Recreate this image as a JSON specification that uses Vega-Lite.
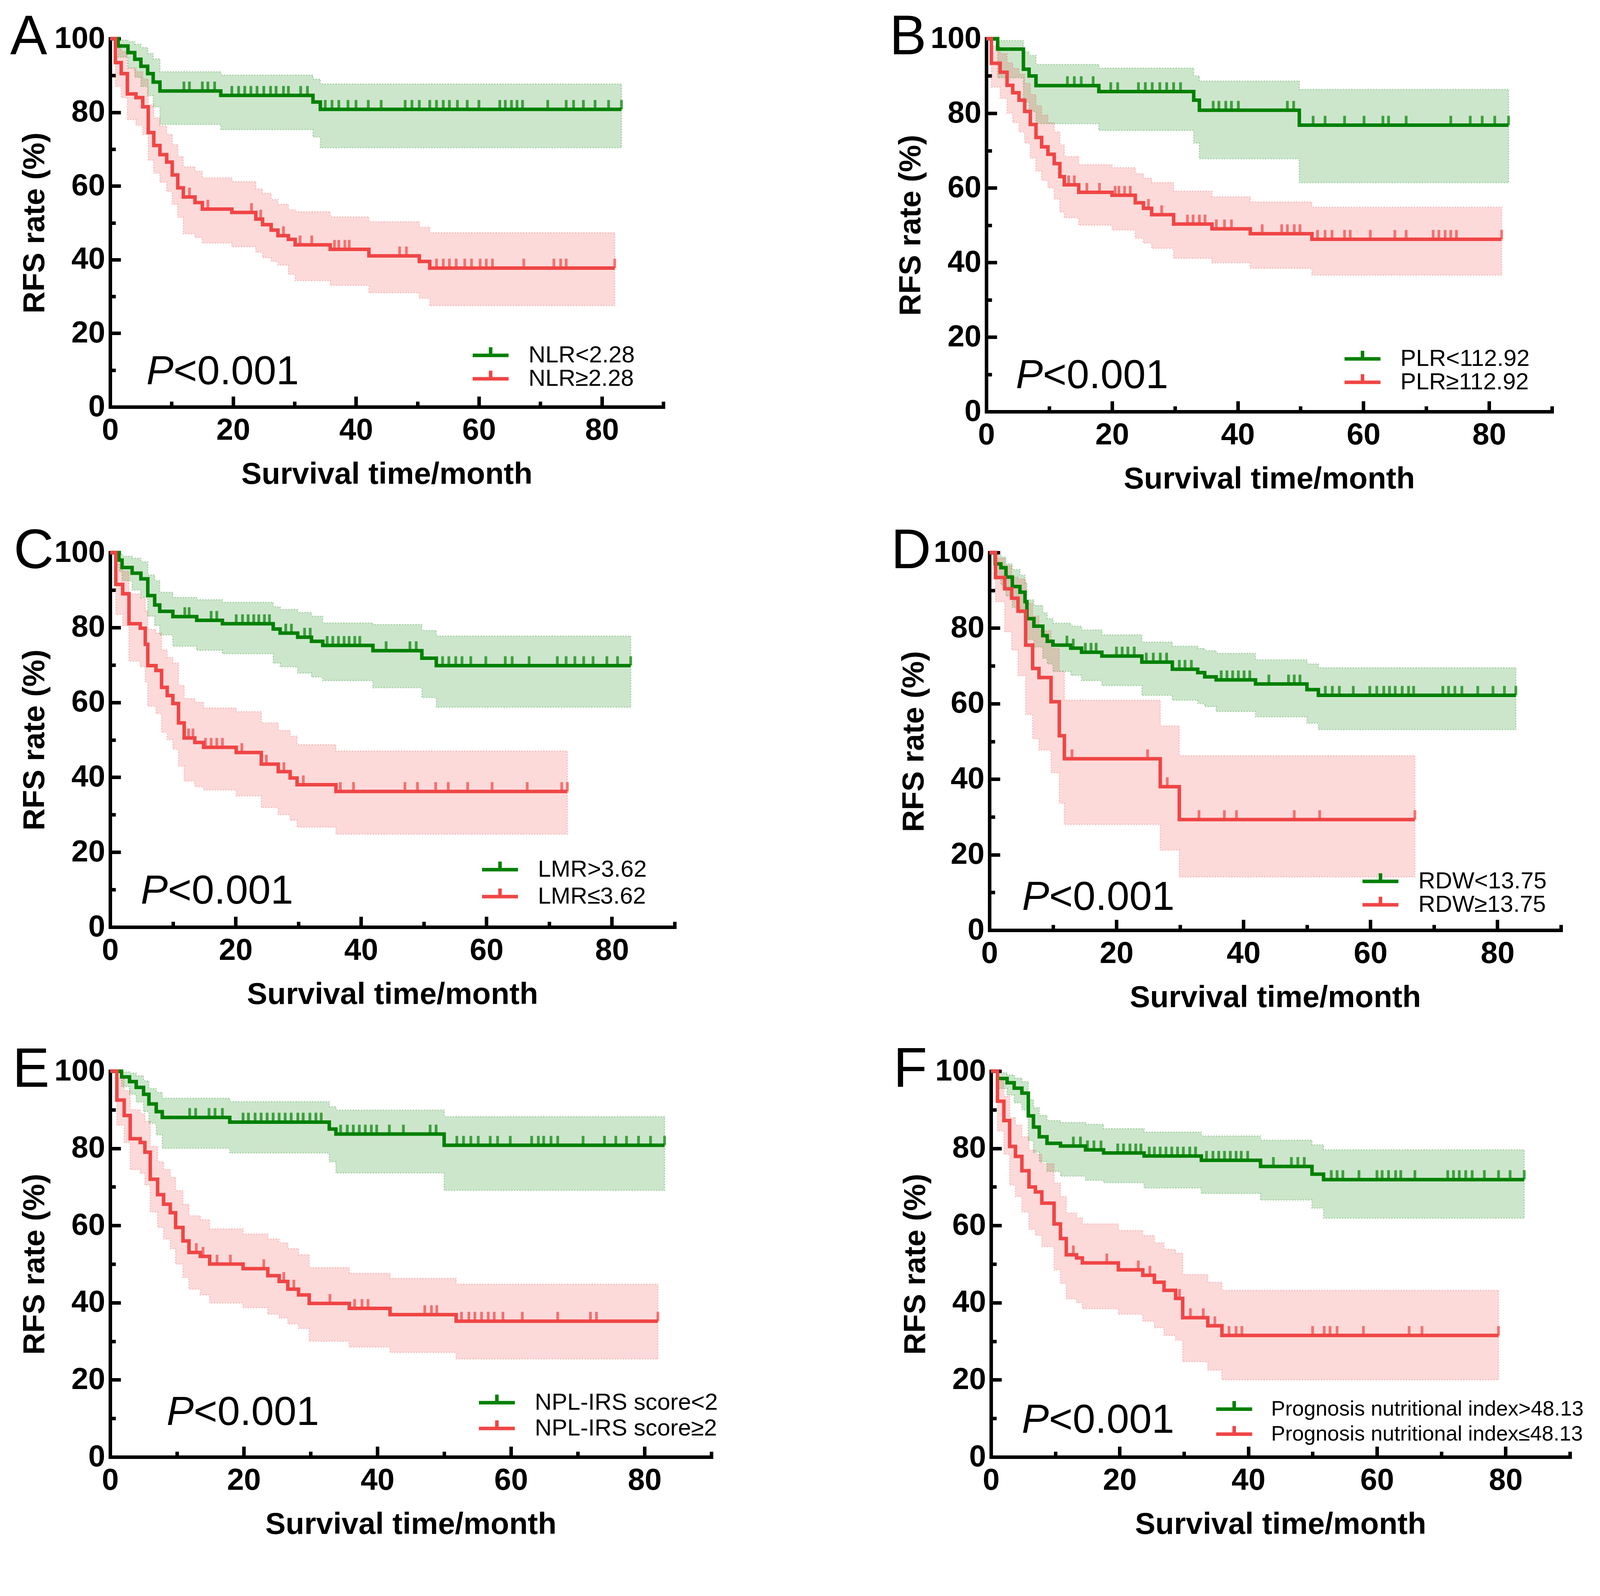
{
  "$schema": "https://vega.github.io/schema/vega-lite/v6.json",
  "background": "white",
  "padding": {"left": 26, "top": 25, "right": 5, "bottom": 5},
  "columns": 1,
  "align": "none",
  "spacing": 75,
  "datasets": {
    "km": [
      {"g":"A1","t":0,"s":100,"lo":100,"hi":100},{"g":"A1","t":1.3,"s":98,"lo":95,"hi":99.6},{"g":"A1","t":2.9,"s":96.2,"lo":92,"hi":99.2},{"g":"A1","t":4,"s":94.4,"lo":89.5,"hi":98.5},{"g":"A1","t":5,"s":92.5,"lo":87,"hi":97.6},{"g":"A1","t":6.1,"s":90.5,"lo":84.5,"hi":96},{"g":"A1","t":7,"s":88.2,"lo":81.5,"hi":94.5},{"g":"A1","t":8.1,"s":85.8,"lo":76.7,"hi":91},{"g":"A1","t":18,"s":84.6,"lo":75.3,"hi":90.1},{"g":"A1","t":33,"s":82.8,"lo":73.3,"hi":89},{"g":"A1","t":34.2,"s":80.8,"lo":70.4,"hi":87.7},{"g":"A1","t":83.2,"s":80.8,"lo":70.4,"hi":87.7},
      {"g":"A2","t":0,"s":100,"lo":100,"hi":100},{"g":"A2","t":0.85,"s":93.5,"lo":87,"hi":98.5},{"g":"A2","t":1.8,"s":90.5,"lo":84,"hi":96.5},{"g":"A2","t":2.8,"s":85,"lo":78,"hi":92},{"g":"A2","t":4.2,"s":84,"lo":76.5,"hi":91},{"g":"A2","t":5.3,"s":81.5,"lo":74,"hi":89},{"g":"A2","t":6.2,"s":74.5,"lo":67,"hi":82},{"g":"A2","t":7.1,"s":71,"lo":63.5,"hi":78.5},{"g":"A2","t":8.1,"s":68.5,"lo":61,"hi":76.3},{"g":"A2","t":9.2,"s":66.5,"lo":58.5,"hi":74},{"g":"A2","t":10.1,"s":63,"lo":55,"hi":71.2},{"g":"A2","t":11,"s":59.5,"lo":51.5,"hi":68},{"g":"A2","t":11.9,"s":57,"lo":47,"hi":65.2},{"g":"A2","t":13.8,"s":55.5,"lo":46,"hi":64},{"g":"A2","t":15,"s":53.7,"lo":44.5,"hi":62.2},{"g":"A2","t":19.8,"s":52.8,"lo":43.5,"hi":61.2},{"g":"A2","t":23.7,"s":51,"lo":42,"hi":59.2},{"g":"A2","t":24.8,"s":49.5,"lo":40.5,"hi":58},{"g":"A2","t":26.2,"s":48,"lo":39.5,"hi":56.3},{"g":"A2","t":27.3,"s":46.5,"lo":38.5,"hi":55},{"g":"A2","t":29,"s":45.5,"lo":36,"hi":53.5},{"g":"A2","t":30.1,"s":44,"lo":34.3,"hi":53},{"g":"A2","t":35.8,"s":42.8,"lo":33,"hi":51.6},{"g":"A2","t":42.1,"s":41,"lo":31,"hi":50.3},{"g":"A2","t":50.3,"s":39.5,"lo":29.5,"hi":48.8},{"g":"A2","t":52,"s":37.7,"lo":27.5,"hi":47.3},{"g":"A2","t":82.1,"s":37.7,"lo":27.5,"hi":47.3},
      {"g":"B1","t":0,"s":100,"lo":100,"hi":100},{"g":"B1","t":1.8,"s":97.2,"lo":89.5,"hi":99.5},{"g":"B1","t":5.9,"s":91.8,"lo":83,"hi":96.5},{"g":"B1","t":6.8,"s":90,"lo":80.5,"hi":95.5},{"g":"B1","t":7.9,"s":87.4,"lo":77.2,"hi":93.1},{"g":"B1","t":17.9,"s":85.8,"lo":75.4,"hi":92.1},{"g":"B1","t":33,"s":83.5,"lo":72,"hi":90},{"g":"B1","t":33.9,"s":80.8,"lo":67.8,"hi":88.6},{"g":"B1","t":49.8,"s":76.8,"lo":61.4,"hi":86.4},{"g":"B1","t":83.1,"s":76.8,"lo":61.4,"hi":86.4},
      {"g":"B2","t":0,"s":100,"lo":100,"hi":100},{"g":"B2","t":0.8,"s":93.4,"lo":87,"hi":98},{"g":"B2","t":2.2,"s":91,"lo":84,"hi":96},{"g":"B2","t":3.3,"s":87.5,"lo":80,"hi":93.5},{"g":"B2","t":4.2,"s":85.5,"lo":77.5,"hi":92},{"g":"B2","t":5.2,"s":83.5,"lo":75,"hi":90.5},{"g":"B2","t":6.1,"s":80.5,"lo":72,"hi":88},{"g":"B2","t":7,"s":77,"lo":68,"hi":85},{"g":"B2","t":7.9,"s":73.5,"lo":64.5,"hi":82},{"g":"B2","t":8.8,"s":71,"lo":62,"hi":79.5},{"g":"B2","t":9.8,"s":69,"lo":60,"hi":77.5},{"g":"B2","t":10.8,"s":66.5,"lo":57,"hi":75},{"g":"B2","t":11.7,"s":63,"lo":53.5,"hi":71.5},{"g":"B2","t":12.4,"s":60.8,"lo":52,"hi":68.4},{"g":"B2","t":14.7,"s":58.8,"lo":50,"hi":66.2},{"g":"B2","t":20,"s":58,"lo":48.7,"hi":65.4},{"g":"B2","t":23.7,"s":56,"lo":46.5,"hi":63.8},{"g":"B2","t":25,"s":54.5,"lo":45.2,"hi":62.6},{"g":"B2","t":26.3,"s":52.8,"lo":43.8,"hi":61.4},{"g":"B2","t":29.8,"s":50.3,"lo":41.1,"hi":59.1},{"g":"B2","t":35.9,"s":49,"lo":39.9,"hi":57.6},{"g":"B2","t":42,"s":47.7,"lo":38.4,"hi":56.2},{"g":"B2","t":51.8,"s":46.2,"lo":36.6,"hi":54.8},{"g":"B2","t":82,"s":46.2,"lo":36.6,"hi":54.8},
      {"g":"C1","t":0,"s":100,"lo":100,"hi":100},{"g":"C1","t":1.4,"s":98,"lo":95,"hi":99.7},{"g":"C1","t":1.9,"s":96,"lo":92.5,"hi":99},{"g":"C1","t":3.5,"s":94.5,"lo":90,"hi":98.5},{"g":"C1","t":4.9,"s":93,"lo":88,"hi":97.5},{"g":"C1","t":6,"s":88.5,"lo":83,"hi":94},{"g":"C1","t":7.1,"s":86,"lo":80.5,"hi":92.5},{"g":"C1","t":7.9,"s":84.3,"lo":78,"hi":89.4},{"g":"C1","t":10,"s":82.9,"lo":75,"hi":88},{"g":"C1","t":13.8,"s":81.9,"lo":73.9,"hi":87.4},{"g":"C1","t":17.9,"s":81,"lo":73,"hi":86.7},{"g":"C1","t":26,"s":79.6,"lo":70.5,"hi":85.5},{"g":"C1","t":27.1,"s":78.5,"lo":69.5,"hi":84.8},{"g":"C1","t":29.9,"s":77.4,"lo":67.8,"hi":84},{"g":"C1","t":32.1,"s":76.3,"lo":66.8,"hi":83},{"g":"C1","t":33.9,"s":75.2,"lo":65.8,"hi":81.2},{"g":"C1","t":41.9,"s":73.8,"lo":63.9,"hi":80.8},{"g":"C1","t":49.7,"s":71.8,"lo":61.3,"hi":79.2},{"g":"C1","t":52,"s":69.8,"lo":58.7,"hi":77.7},{"g":"C1","t":83,"s":69.8,"lo":58.7,"hi":77.7},
      {"g":"C2","t":0,"s":100,"lo":100,"hi":100},{"g":"C2","t":0.9,"s":91.5,"lo":83.5,"hi":97},{"g":"C2","t":2,"s":89,"lo":80.5,"hi":95},{"g":"C2","t":3,"s":81,"lo":71,"hi":89},{"g":"C2","t":4.8,"s":79.8,"lo":69.5,"hi":87.8},{"g":"C2","t":5.6,"s":75.5,"lo":65.5,"hi":84.5},{"g":"C2","t":6,"s":69.8,"lo":59,"hi":79.5},{"g":"C2","t":7.3,"s":68.5,"lo":57,"hi":78.5},{"g":"C2","t":8.2,"s":64,"lo":52,"hi":74},{"g":"C2","t":9.1,"s":61.8,"lo":50,"hi":72},{"g":"C2","t":10,"s":59.7,"lo":47.5,"hi":70.5},{"g":"C2","t":10.9,"s":54.5,"lo":43,"hi":64.5},{"g":"C2","t":11.8,"s":50.5,"lo":39,"hi":61},{"g":"C2","t":13.5,"s":49.3,"lo":37.5,"hi":60},{"g":"C2","t":14.9,"s":48,"lo":36.6,"hi":58.5},{"g":"C2","t":20.1,"s":46.6,"lo":35,"hi":57.5},{"g":"C2","t":24.1,"s":43.5,"lo":31.9,"hi":54.5},{"g":"C2","t":26.8,"s":41.5,"lo":30,"hi":52.5},{"g":"C2","t":28.7,"s":39.8,"lo":28.5,"hi":51},{"g":"C2","t":29.8,"s":38,"lo":26.7,"hi":48.7},{"g":"C2","t":36,"s":36.2,"lo":24.8,"hi":47},{"g":"C2","t":72.9,"s":36.2,"lo":24.8,"hi":47},
      {"g":"D1","t":0,"s":100,"lo":100,"hi":100},{"g":"D1","t":0.9,"s":97,"lo":93,"hi":99.3},{"g":"D1","t":1.8,"s":96,"lo":91.5,"hi":98.8},{"g":"D1","t":2.6,"s":93.5,"lo":88.5,"hi":97},{"g":"D1","t":3.6,"s":91,"lo":85.5,"hi":95.5},{"g":"D1","t":4.8,"s":89.5,"lo":84,"hi":94},{"g":"D1","t":5.6,"s":87,"lo":81,"hi":92},{"g":"D1","t":5.9,"s":82.5,"lo":77,"hi":87.5},{"g":"D1","t":7,"s":80.5,"lo":75,"hi":86},{"g":"D1","t":8.4,"s":78,"lo":72,"hi":84},{"g":"D1","t":9.1,"s":76.5,"lo":70.5,"hi":82.5},{"g":"D1","t":10,"s":75.5,"lo":68.5,"hi":81.3},{"g":"D1","t":12.8,"s":74.7,"lo":67.5,"hi":80.5},{"g":"D1","t":14.5,"s":73.6,"lo":66.1,"hi":79.5},{"g":"D1","t":17.7,"s":72.6,"lo":64.8,"hi":78.2},{"g":"D1","t":24,"s":71,"lo":62.2,"hi":76.3},{"g":"D1","t":28.8,"s":69.1,"lo":60.9,"hi":75.2},{"g":"D1","t":32.8,"s":68.2,"lo":60,"hi":74.6},{"g":"D1","t":33.9,"s":67.1,"lo":59.2,"hi":74},{"g":"D1","t":35.7,"s":66.3,"lo":57.9,"hi":73.3},{"g":"D1","t":41.9,"s":65.2,"lo":56.5,"hi":71.6},{"g":"D1","t":50,"s":63.7,"lo":54.8,"hi":70.5},{"g":"D1","t":51.8,"s":62.2,"lo":53.1,"hi":69.5},{"g":"D1","t":82.9,"s":62.2,"lo":53.1,"hi":69.5},
      {"g":"D2","t":0,"s":100,"lo":100,"hi":100},{"g":"D2","t":0.95,"s":93.4,"lo":87,"hi":98.5},{"g":"D2","t":2.4,"s":90.4,"lo":79,"hi":96.5},{"g":"D2","t":3.5,"s":87.9,"lo":74.2,"hi":93.5},{"g":"D2","t":4.5,"s":84.5,"lo":67.4,"hi":93},{"g":"D2","t":5.7,"s":75.5,"lo":57.1,"hi":86.6},{"g":"D2","t":6.8,"s":69.3,"lo":50.7,"hi":83.2},{"g":"D2","t":7.8,"s":66.9,"lo":47.7,"hi":79.3},{"g":"D2","t":9.7,"s":60.5,"lo":41.7,"hi":74.6},{"g":"D2","t":11,"s":51.5,"lo":33.6,"hi":68.6},{"g":"D2","t":11.8,"s":45.4,"lo":28,"hi":60.9},{"g":"D2","t":26.9,"s":38,"lo":21.2,"hi":54.1},{"g":"D2","t":29.9,"s":29.3,"lo":14.1,"hi":46.2},{"g":"D2","t":67,"s":29.3,"lo":14.1,"hi":46.2},
      {"g":"E1","t":0,"s":100,"lo":100,"hi":100},{"g":"E1","t":1.7,"s":98.5,"lo":96,"hi":99.8},{"g":"E1","t":2.9,"s":97.3,"lo":94,"hi":99.5},{"g":"E1","t":3.9,"s":95.8,"lo":92,"hi":98.8},{"g":"E1","t":5,"s":94,"lo":89.5,"hi":97.5},{"g":"E1","t":5.8,"s":91.5,"lo":86.5,"hi":95.5},{"g":"E1","t":6.9,"s":89.5,"lo":83.5,"hi":94.5},{"g":"E1","t":7.8,"s":88,"lo":80,"hi":93},{"g":"E1","t":17.9,"s":86.8,"lo":78.8,"hi":92.1},{"g":"E1","t":32.8,"s":85,"lo":76.5,"hi":90.8},{"g":"E1","t":33.8,"s":83.7,"lo":73.6,"hi":89.9},{"g":"E1","t":50,"s":80.8,"lo":69.1,"hi":88.2},{"g":"E1","t":83,"s":80.8,"lo":69.1,"hi":88.2},
      {"g":"E2","t":0,"s":100,"lo":100,"hi":100},{"g":"E2","t":1,"s":92.5,"lo":86,"hi":98.3},{"g":"E2","t":2.1,"s":88.5,"lo":81.5,"hi":95},{"g":"E2","t":3,"s":82.5,"lo":74.5,"hi":90},{"g":"E2","t":4.5,"s":81.5,"lo":73.5,"hi":89},{"g":"E2","t":5.2,"s":79,"lo":70.5,"hi":87},{"g":"E2","t":6,"s":72,"lo":63.5,"hi":80.5},{"g":"E2","t":7.1,"s":68,"lo":59.5,"hi":76.5},{"g":"E2","t":8,"s":65.5,"lo":56.5,"hi":74.5},{"g":"E2","t":9,"s":63.3,"lo":54,"hi":72.5},{"g":"E2","t":9.8,"s":59.5,"lo":50,"hi":69},{"g":"E2","t":10.9,"s":56,"lo":46.5,"hi":65.5},{"g":"E2","t":11.8,"s":53,"lo":43.5,"hi":62.5},{"g":"E2","t":13.5,"s":52,"lo":42,"hi":61.5},{"g":"E2","t":14.9,"s":50,"lo":39.9,"hi":59.1},{"g":"E2","t":19.9,"s":48.8,"lo":38.7,"hi":57.8},{"g":"E2","t":23.6,"s":47,"lo":37,"hi":56.5},{"g":"E2","t":25.3,"s":45.5,"lo":36,"hi":55.5},{"g":"E2","t":26.6,"s":43.5,"lo":34.5,"hi":54},{"g":"E2","t":28.2,"s":42,"lo":33.3,"hi":52.4},{"g":"E2","t":29.8,"s":39.8,"lo":30,"hi":49.1},{"g":"E2","t":35.8,"s":38.5,"lo":28.5,"hi":47.6},{"g":"E2","t":41.9,"s":36.9,"lo":27.1,"hi":46.3},{"g":"E2","t":51.8,"s":35.2,"lo":25.4,"hi":44.8},{"g":"E2","t":82,"s":35.2,"lo":25.4,"hi":44.8},
      {"g":"F1","t":0,"s":100,"lo":100,"hi":100},{"g":"F1","t":1,"s":98.1,"lo":95.5,"hi":99.6},{"g":"F1","t":2.5,"s":97,"lo":93.8,"hi":99},{"g":"F1","t":3.6,"s":95.6,"lo":91.8,"hi":98.2},{"g":"F1","t":4.8,"s":94.3,"lo":90,"hi":97.3},{"g":"F1","t":5.8,"s":88.4,"lo":82,"hi":92.6},{"g":"F1","t":6.6,"s":85.5,"lo":79,"hi":90.5},{"g":"F1","t":7.5,"s":83,"lo":76.5,"hi":88.5},{"g":"F1","t":8.7,"s":81.3,"lo":74,"hi":87.2},{"g":"F1","t":10.8,"s":80.6,"lo":72.8,"hi":86.7},{"g":"F1","t":14.7,"s":79.6,"lo":71.7,"hi":86.2},{"g":"F1","t":17.5,"s":78.8,"lo":71.1,"hi":85.1},{"g":"F1","t":23.8,"s":78,"lo":69.7,"hi":84.2},{"g":"F1","t":32.7,"s":76.9,"lo":68.3,"hi":83.2},{"g":"F1","t":41.9,"s":75.3,"lo":66.6,"hi":82.1},{"g":"F1","t":49.9,"s":73.3,"lo":64.5,"hi":80.9},{"g":"F1","t":51.7,"s":71.9,"lo":61.9,"hi":79.6},{"g":"F1","t":82.9,"s":71.9,"lo":61.9,"hi":79.6},
      {"g":"F2","t":0,"s":100,"lo":100,"hi":100},{"g":"F2","t":1,"s":92.2,"lo":84.5,"hi":97.5},{"g":"F2","t":2,"s":87.2,"lo":78.5,"hi":93.5},{"g":"F2","t":2.9,"s":80.5,"lo":70.5,"hi":88},{"g":"F2","t":3.8,"s":77.9,"lo":67.5,"hi":86},{"g":"F2","t":4.8,"s":74.2,"lo":63.5,"hi":83},{"g":"F2","t":5.9,"s":70,"lo":59,"hi":79.5},{"g":"F2","t":6.9,"s":68.7,"lo":57.5,"hi":78.5},{"g":"F2","t":7.9,"s":65.8,"lo":54.5,"hi":76},{"g":"F2","t":9.8,"s":60.4,"lo":48.5,"hi":71},{"g":"F2","t":10.8,"s":56.6,"lo":45,"hi":67.5},{"g":"F2","t":11.7,"s":52.4,"lo":41,"hi":63.2},{"g":"F2","t":13.3,"s":51.6,"lo":40,"hi":62},{"g":"F2","t":14.2,"s":50.3,"lo":38.4,"hi":60.4},{"g":"F2","t":19.8,"s":48.5,"lo":37,"hi":58.7},{"g":"F2","t":23.6,"s":47.1,"lo":35.2,"hi":57.4},{"g":"F2","t":25.4,"s":45.3,"lo":33.5,"hi":55.5},{"g":"F2","t":26.9,"s":43.2,"lo":31.5,"hi":53.8},{"g":"F2","t":28.7,"s":41.1,"lo":30.3,"hi":52.8},{"g":"F2","t":29.8,"s":36.1,"lo":24.7,"hi":47.3},{"g":"F2","t":33.7,"s":34,"lo":22.5,"hi":45.3},{"g":"F2","t":35.9,"s":31.5,"lo":20,"hi":43.2},{"g":"F2","t":78.9,"s":31.5,"lo":20,"hi":43.2}
    ],
    "cen": [
      {"g":"A1","t":12,"s":85.8},{"g":"A1","t":12.9,"s":85.8},{"g":"A1","t":15,"s":85.8},{"g":"A1","t":15.9,"s":85.8},{"g":"A1","t":17,"s":85.8},
      {"g":"A1","t":19.8,"s":84.6},{"g":"A1","t":20.9,"s":84.6},{"g":"A1","t":21.9,"s":84.6},{"g":"A1","t":22.9,"s":84.6},{"g":"A1","t":23.9,"s":84.6},{"g":"A1","t":25,"s":84.6},{"g":"A1","t":26.1,"s":84.6},{"g":"A1","t":27,"s":84.6},{"g":"A1","t":28.2,"s":84.6},{"g":"A1","t":29,"s":84.6},{"g":"A1","t":31,"s":84.6},{"g":"A1","t":32.1,"s":84.6},
      {"g":"A1","t":35,"s":80.8},{"g":"A1","t":36.1,"s":80.8},{"g":"A1","t":37.2,"s":80.8},{"g":"A1","t":38.7,"s":80.8},{"g":"A1","t":40,"s":80.8},{"g":"A1","t":42,"s":80.8},{"g":"A1","t":44.1,"s":80.8},{"g":"A1","t":48,"s":80.8},{"g":"A1","t":49.1,"s":80.8},{"g":"A1","t":50.3,"s":80.8},{"g":"A1","t":52,"s":80.8},{"g":"A1","t":53.1,"s":80.8},{"g":"A1","t":54.2,"s":80.8},{"g":"A1","t":55.2,"s":80.8},{"g":"A1","t":56.5,"s":80.8},{"g":"A1","t":58.1,"s":80.8},{"g":"A1","t":60,"s":80.8},{"g":"A1","t":63.4,"s":80.8},{"g":"A1","t":64.3,"s":80.8},{"g":"A1","t":65.3,"s":80.8},{"g":"A1","t":66.2,"s":80.8},{"g":"A1","t":67.1,"s":80.8},{"g":"A1","t":71.2,"s":80.8},{"g":"A1","t":74.2,"s":80.8},{"g":"A1","t":75.4,"s":80.8},{"g":"A1","t":77,"s":80.8},{"g":"A1","t":78.9,"s":80.8},{"g":"A1","t":81.1,"s":80.8},{"g":"A1","t":83.2,"s":80.8},
      {"g":"A2","t":12.9,"s":57},{"g":"A2","t":15.9,"s":53.7},{"g":"A2","t":23,"s":52.8},{"g":"A2","t":24.5,"s":51},{"g":"A2","t":28.2,"s":46.5},{"g":"A2","t":30.9,"s":44},{"g":"A2","t":32.8,"s":44},{"g":"A2","t":36.5,"s":42.8},{"g":"A2","t":37.2,"s":42.8},{"g":"A2","t":38.2,"s":42.8},{"g":"A2","t":38.9,"s":42.8},{"g":"A2","t":47.1,"s":41},{"g":"A2","t":48.2,"s":41},
      {"g":"A2","t":53.1,"s":37.7},{"g":"A2","t":54.2,"s":37.7},{"g":"A2","t":55.2,"s":37.7},{"g":"A2","t":56.3,"s":37.7},{"g":"A2","t":57.7,"s":37.7},{"g":"A2","t":58.8,"s":37.7},{"g":"A2","t":60.2,"s":37.7},{"g":"A2","t":61.2,"s":37.7},{"g":"A2","t":62.2,"s":37.7},{"g":"A2","t":67.3,"s":37.7},{"g":"A2","t":72.2,"s":37.7},{"g":"A2","t":73.3,"s":37.7},{"g":"A2","t":74.2,"s":37.7},{"g":"A2","t":82.1,"s":37.7},
      {"g":"B1","t":12.9,"s":87.4},{"g":"B1","t":14,"s":87.4},{"g":"B1","t":15.1,"s":87.4},{"g":"B1","t":17,"s":87.4},
      {"g":"B1","t":19.8,"s":85.8},{"g":"B1","t":20.9,"s":85.8},{"g":"B1","t":24.2,"s":85.8},{"g":"B1","t":25.3,"s":85.8},{"g":"B1","t":26.4,"s":85.8},{"g":"B1","t":27.6,"s":85.8},{"g":"B1","t":28.7,"s":85.8},{"g":"B1","t":29.8,"s":85.8},{"g":"B1","t":30.9,"s":85.8},
      {"g":"B1","t":36.1,"s":80.8},{"g":"B1","t":37,"s":80.8},{"g":"B1","t":38.1,"s":80.8},{"g":"B1","t":39,"s":80.8},{"g":"B1","t":40.1,"s":80.8},{"g":"B1","t":47.9,"s":80.8},{"g":"B1","t":48.9,"s":80.8},
      {"g":"B1","t":52,"s":76.8},{"g":"B1","t":53.9,"s":76.8},{"g":"B1","t":57,"s":76.8},{"g":"B1","t":60.1,"s":76.8},{"g":"B1","t":63.1,"s":76.8},{"g":"B1","t":64,"s":76.8},{"g":"B1","t":66.8,"s":76.8},{"g":"B1","t":73.9,"s":76.8},{"g":"B1","t":77,"s":76.8},{"g":"B1","t":78.9,"s":76.8},{"g":"B1","t":80.9,"s":76.8},{"g":"B1","t":83.1,"s":76.8},
      {"g":"B2","t":13.1,"s":60.8},{"g":"B2","t":14,"s":60.8},{"g":"B2","t":16,"s":58.8},{"g":"B2","t":18,"s":58.8},{"g":"B2","t":20.5,"s":58},{"g":"B2","t":21.1,"s":58},{"g":"B2","t":22,"s":58},{"g":"B2","t":22.9,"s":58},{"g":"B2","t":25.8,"s":54.5},{"g":"B2","t":27.9,"s":52.8},
      {"g":"B2","t":32,"s":50.3},{"g":"B2","t":32.9,"s":50.3},{"g":"B2","t":33.9,"s":50.3},{"g":"B2","t":34.8,"s":50.3},{"g":"B2","t":36.6,"s":49},{"g":"B2","t":37.9,"s":49},{"g":"B2","t":39,"s":49},
      {"g":"B2","t":43.9,"s":47.7},{"g":"B2","t":47,"s":47.7},{"g":"B2","t":47.9,"s":47.7},{"g":"B2","t":49,"s":47.7},{"g":"B2","t":49.9,"s":47.7},
      {"g":"B2","t":52.7,"s":46.2},{"g":"B2","t":53.9,"s":46.2},{"g":"B2","t":55,"s":46.2},{"g":"B2","t":57,"s":46.2},{"g":"B2","t":57.9,"s":46.2},{"g":"B2","t":61.1,"s":46.2},{"g":"B2","t":65,"s":46.2},{"g":"B2","t":66.8,"s":46.2},{"g":"B2","t":71.1,"s":46.2},{"g":"B2","t":72,"s":46.2},{"g":"B2","t":73,"s":46.2},{"g":"B2","t":73.9,"s":46.2},{"g":"B2","t":74.8,"s":46.2},{"g":"B2","t":82,"s":46.2},
      {"g":"C1","t":11.9,"s":82.9},{"g":"C1","t":12.6,"s":82.9},{"g":"C1","t":16.1,"s":81.9},{"g":"C1","t":17,"s":81.9},
      {"g":"C1","t":20.1,"s":81},{"g":"C1","t":21.1,"s":81},{"g":"C1","t":22,"s":81},{"g":"C1","t":22.9,"s":81},{"g":"C1","t":23.7,"s":81},{"g":"C1","t":24.6,"s":81},{"g":"C1","t":25.4,"s":81},
      {"g":"C1","t":28,"s":78.5},{"g":"C1","t":28.9,"s":78.5},{"g":"C1","t":31,"s":77.4},{"g":"C1","t":31.9,"s":77.4},
      {"g":"C1","t":34.6,"s":75.2},{"g":"C1","t":35.5,"s":75.2},{"g":"C1","t":36.4,"s":75.2},{"g":"C1","t":37.3,"s":75.2},{"g":"C1","t":38.1,"s":75.2},{"g":"C1","t":39,"s":75.2},{"g":"C1","t":39.8,"s":75.2},
      {"g":"C1","t":44,"s":73.8},{"g":"C1","t":47.8,"s":73.8},{"g":"C1","t":48.8,"s":73.8},
      {"g":"C1","t":53,"s":69.8},{"g":"C1","t":54,"s":69.8},{"g":"C1","t":55.1,"s":69.8},{"g":"C1","t":56.1,"s":69.8},{"g":"C1","t":57.5,"s":69.8},{"g":"C1","t":59.9,"s":69.8},{"g":"C1","t":63,"s":69.8},{"g":"C1","t":64.1,"s":69.8},{"g":"C1","t":66.8,"s":69.8},{"g":"C1","t":71.3,"s":69.8},{"g":"C1","t":72.7,"s":69.8},{"g":"C1","t":74.1,"s":69.8},{"g":"C1","t":75.5,"s":69.8},{"g":"C1","t":77,"s":69.8},{"g":"C1","t":79.2,"s":69.8},{"g":"C1","t":80.9,"s":69.8},{"g":"C1","t":83,"s":69.8},
      {"g":"C2","t":12.5,"s":50.5},{"g":"C2","t":13.2,"s":50.5},{"g":"C2","t":15.2,"s":48},{"g":"C2","t":16.1,"s":48},{"g":"C2","t":17,"s":48},{"g":"C2","t":17.9,"s":48},{"g":"C2","t":21,"s":46.6},{"g":"C2","t":24.9,"s":43.5},{"g":"C2","t":27.7,"s":41.5},{"g":"C2","t":30.8,"s":38},
      {"g":"C2","t":36.7,"s":36.2},{"g":"C2","t":38.8,"s":36.2},{"g":"C2","t":47,"s":36.2},{"g":"C2","t":49,"s":36.2},{"g":"C2","t":51.9,"s":36.2},{"g":"C2","t":53.9,"s":36.2},{"g":"C2","t":57,"s":36.2},{"g":"C2","t":60.9,"s":36.2},{"g":"C2","t":66.5,"s":36.2},{"g":"C2","t":72,"s":36.2},{"g":"C2","t":72.9,"s":36.2},
      {"g":"D1","t":12.2,"s":75.5},{"g":"D1","t":13.2,"s":74.7},{"g":"D1","t":15.1,"s":73.6},{"g":"D1","t":16,"s":73.6},{"g":"D1","t":16.8,"s":73.6},
      {"g":"D1","t":20,"s":72.6},{"g":"D1","t":20.9,"s":72.6},{"g":"D1","t":21.8,"s":72.6},{"g":"D1","t":22.8,"s":72.6},{"g":"D1","t":24.7,"s":71},{"g":"D1","t":25.8,"s":71},{"g":"D1","t":26.9,"s":71},{"g":"D1","t":27.9,"s":71},
      {"g":"D1","t":29.9,"s":69.1},{"g":"D1","t":30.8,"s":69.1},{"g":"D1","t":31.8,"s":69.1},
      {"g":"D1","t":36.5,"s":66.3},{"g":"D1","t":37.4,"s":66.3},{"g":"D1","t":38.3,"s":66.3},{"g":"D1","t":39.2,"s":66.3},{"g":"D1","t":40.1,"s":66.3},{"g":"D1","t":41,"s":66.3},
      {"g":"D1","t":44,"s":65.2},{"g":"D1","t":47.1,"s":65.2},{"g":"D1","t":48,"s":65.2},{"g":"D1","t":48.9,"s":65.2},
      {"g":"D1","t":52.9,"s":62.2},{"g":"D1","t":54,"s":62.2},{"g":"D1","t":55.1,"s":62.2},{"g":"D1","t":57.3,"s":62.2},{"g":"D1","t":59.9,"s":62.2},{"g":"D1","t":61,"s":62.2},{"g":"D1","t":62.1,"s":62.2},{"g":"D1","t":63,"s":62.2},{"g":"D1","t":63.9,"s":62.2},{"g":"D1","t":65,"s":62.2},{"g":"D1","t":66,"s":62.2},{"g":"D1","t":66.8,"s":62.2},{"g":"D1","t":71.4,"s":62.2},{"g":"D1","t":72.3,"s":62.2},{"g":"D1","t":73.3,"s":62.2},{"g":"D1","t":74.4,"s":62.2},{"g":"D1","t":76.9,"s":62.2},{"g":"D1","t":79.3,"s":62.2},{"g":"D1","t":81.1,"s":62.2},{"g":"D1","t":82.9,"s":62.2},
      {"g":"D2","t":13,"s":45.4},{"g":"D2","t":24.9,"s":45.4},{"g":"D2","t":28,"s":38},{"g":"D2","t":33,"s":29.3},{"g":"D2","t":37,"s":29.3},{"g":"D2","t":38.9,"s":29.3},{"g":"D2","t":48,"s":29.3},{"g":"D2","t":52,"s":29.3},{"g":"D2","t":67,"s":29.3},
      {"g":"E1","t":11.9,"s":88},{"g":"E1","t":12.8,"s":88},{"g":"E1","t":14.8,"s":88},{"g":"E1","t":15.7,"s":88},{"g":"E1","t":16.8,"s":88},
      {"g":"E1","t":19.9,"s":86.8},{"g":"E1","t":20.7,"s":86.8},{"g":"E1","t":21.7,"s":86.8},{"g":"E1","t":22.6,"s":86.8},{"g":"E1","t":23.5,"s":86.8},{"g":"E1","t":24.4,"s":86.8},{"g":"E1","t":25.3,"s":86.8},{"g":"E1","t":26.2,"s":86.8},{"g":"E1","t":27.1,"s":86.8},{"g":"E1","t":28.1,"s":86.8},{"g":"E1","t":28.9,"s":86.8},{"g":"E1","t":29.9,"s":86.8},{"g":"E1","t":30.8,"s":86.8},{"g":"E1","t":31.6,"s":86.8},
      {"g":"E1","t":34.5,"s":83.7},{"g":"E1","t":35.5,"s":83.7},{"g":"E1","t":36.4,"s":83.7},{"g":"E1","t":37.3,"s":83.7},{"g":"E1","t":38.2,"s":83.7},{"g":"E1","t":39.1,"s":83.7},{"g":"E1","t":39.9,"s":83.7},{"g":"E1","t":41.8,"s":83.7},{"g":"E1","t":43.9,"s":83.7},{"g":"E1","t":47.9,"s":83.7},{"g":"E1","t":48.8,"s":83.7},
      {"g":"E1","t":51.9,"s":80.8},{"g":"E1","t":52.9,"s":80.8},{"g":"E1","t":54,"s":80.8},{"g":"E1","t":55.1,"s":80.8},{"g":"E1","t":56.9,"s":80.8},{"g":"E1","t":58,"s":80.8},{"g":"E1","t":59.9,"s":80.8},{"g":"E1","t":63.1,"s":80.8},{"g":"E1","t":64.1,"s":80.8},{"g":"E1","t":64.9,"s":80.8},{"g":"E1","t":66,"s":80.8},{"g":"E1","t":67,"s":80.8},{"g":"E1","t":70.8,"s":80.8},{"g":"E1","t":74,"s":80.8},{"g":"E1","t":75.7,"s":80.8},{"g":"E1","t":77.3,"s":80.8},{"g":"E1","t":79.1,"s":80.8},{"g":"E1","t":80.9,"s":80.8},{"g":"E1","t":83,"s":80.8},
      {"g":"E2","t":12.9,"s":53},{"g":"E2","t":13.9,"s":52},{"g":"E2","t":16,"s":50},{"g":"E2","t":18,"s":50},{"g":"E2","t":23,"s":48.8},{"g":"E2","t":26,"s":45.5},{"g":"E2","t":27.5,"s":43.5},{"g":"E2","t":32.9,"s":39.8},
      {"g":"E2","t":36.6,"s":38.5},{"g":"E2","t":37.7,"s":38.5},{"g":"E2","t":38.6,"s":38.5},{"g":"E2","t":47.1,"s":36.9},{"g":"E2","t":48.1,"s":36.9},{"g":"E2","t":48.9,"s":36.9},
      {"g":"E2","t":52.6,"s":35.2},{"g":"E2","t":53.7,"s":35.2},{"g":"E2","t":54.6,"s":35.2},{"g":"E2","t":55.6,"s":35.2},{"g":"E2","t":56.6,"s":35.2},{"g":"E2","t":57.5,"s":35.2},{"g":"E2","t":58.8,"s":35.2},{"g":"E2","t":61.7,"s":35.2},{"g":"E2","t":67,"s":35.2},{"g":"E2","t":71.9,"s":35.2},{"g":"E2","t":72.8,"s":35.2},{"g":"E2","t":82,"s":35.2},
      {"g":"F1","t":12.8,"s":80.6},{"g":"F1","t":13.9,"s":80.6},{"g":"F1","t":15,"s":79.6},{"g":"F1","t":16,"s":79.6},{"g":"F1","t":17.1,"s":79.6},
      {"g":"F1","t":19.7,"s":78.8},{"g":"F1","t":20.6,"s":78.8},{"g":"F1","t":21.6,"s":78.8},{"g":"F1","t":22.5,"s":78.8},{"g":"F1","t":23.3,"s":78.8},
      {"g":"F1","t":24.6,"s":78},{"g":"F1","t":25.4,"s":78},{"g":"F1","t":26.3,"s":78},{"g":"F1","t":27.2,"s":78},{"g":"F1","t":28.1,"s":78},{"g":"F1","t":29,"s":78},{"g":"F1","t":29.9,"s":78},{"g":"F1","t":30.9,"s":78},{"g":"F1","t":31.8,"s":78},
      {"g":"F1","t":33.5,"s":76.9},{"g":"F1","t":34.5,"s":76.9},{"g":"F1","t":35.4,"s":76.9},{"g":"F1","t":36.3,"s":76.9},{"g":"F1","t":37.2,"s":76.9},{"g":"F1","t":38.1,"s":76.9},{"g":"F1","t":38.9,"s":76.9},{"g":"F1","t":39.9,"s":76.9},
      {"g":"F1","t":43.9,"s":75.3},{"g":"F1","t":46.7,"s":75.3},{"g":"F1","t":47.7,"s":75.3},{"g":"F1","t":48.7,"s":75.3},
      {"g":"F1","t":52.9,"s":71.9},{"g":"F1","t":53.8,"s":71.9},{"g":"F1","t":54.7,"s":71.9},{"g":"F1","t":57.2,"s":71.9},{"g":"F1","t":60,"s":71.9},{"g":"F1","t":60.8,"s":71.9},{"g":"F1","t":61.8,"s":71.9},{"g":"F1","t":62.9,"s":71.9},{"g":"F1","t":63.7,"s":71.9},{"g":"F1","t":65.9,"s":71.9},{"g":"F1","t":71,"s":71.9},{"g":"F1","t":71.9,"s":71.9},{"g":"F1","t":72.8,"s":71.9},{"g":"F1","t":73.8,"s":71.9},{"g":"F1","t":74.8,"s":71.9},{"g":"F1","t":76.7,"s":71.9},{"g":"F1","t":78.9,"s":71.9},{"g":"F1","t":80.7,"s":71.9},{"g":"F1","t":82.9,"s":71.9},
      {"g":"F2","t":12.8,"s":52.4},{"g":"F2","t":18,"s":50.3},{"g":"F2","t":22.9,"s":48.5},{"g":"F2","t":24.7,"s":47.1},{"g":"F2","t":29.3,"s":41.1},{"g":"F2","t":31,"s":36.1},{"g":"F2","t":33,"s":36.1},{"g":"F2","t":34.8,"s":34},
      {"g":"F2","t":37,"s":31.5},{"g":"F2","t":38.1,"s":31.5},{"g":"F2","t":39,"s":31.5},{"g":"F2","t":50,"s":31.5},{"g":"F2","t":51.8,"s":31.5},{"g":"F2","t":52.7,"s":31.5},{"g":"F2","t":53.8,"s":31.5},{"g":"F2","t":57.9,"s":31.5},{"g":"F2","t":65,"s":31.5},{"g":"F2","t":67,"s":31.5},{"g":"F2","t":78.9,"s":31.5}
    ],
    "pv": [
      {"g":"A","t":10.3,"s":6.2,"p":"P","v":"<0.001"},
      {"g":"B","t":9.0,"s":6.3,"p":"P","v":"<0.001"},
      {"g":"C","t":9.2,"s":6.3,"p":"P","v":"<0.001"},
      {"g":"D","t":9.4,"s":5.4,"p":"P","v":"<0.001"},
      {"g":"E","t":12.5,"s":8.3,"p":"P","v":"<0.001"},
      {"g":"F","t":9.0,"s":6.3,"p":"P","v":"<0.001"}
    ]
  },
  "concat": [
    {
      "spacing": 574,
      "hconcat": [
        {
          "title": {"text": "A", "dx": -256, "dy": 113},
          "width": 1416, "height": 943,
          "encoding": {
            "x": {"field": "t", "type": "quantitative", "scale": {"domain": [0, 90], "nice": false},
                  "axis": {"title": "Survival time/month", "values": [0,10,20,30,40,50,60,70,80,90], "labelExpr": "datum.value % 20 === 0 ? datum.label : ''", "tickSize": {"condition": {"test": "datum.value % 20 === 0", "value": -27}, "value": -14}}},
            "y": {"field": "s", "type": "quantitative", "scale": {"domain": [0, 100], "nice": false},
                  "axis": {"title": "RFS rate (%)", "values": [0,10,20,30,40,50,60,70,80,90,100], "labelExpr": "datum.value % 20 === 0 ? datum.label : ''", "tickSize": {"condition": {"test": "datum.value % 20 === 0", "value": -27}, "value": -14}}}
          },
          "layer": [
            {"data": {"name": "km"}, "transform": [{"filter": {"field": "g", "oneOf": ["A1", "A2"]}}],
             "mark": {"type": "area", "interpolate": "step-after", "fillOpacity": 0.2, "strokeWidth": 3, "strokeDash": [3, 4], "strokeOpacity": 0.3},
             "encoding": {"y": {"field": "hi", "type": "quantitative", "scale": {"domain": [0, 100], "nice": false}}, "y2": {"field": "lo"},
                          "fill": {"field": "g", "type": "nominal", "scale": {"domain": ["A2", "A1"], "range": ["#f04545", "#008000"]}, "legend": null},
                          "stroke": {"field": "g", "type": "nominal", "scale": {"domain": ["A2", "A1"], "range": ["#f04545", "#008000"]}, "legend": null}}},
            {"data": {"name": "km"}, "transform": [{"filter": {"field": "g", "oneOf": ["A1", "A2"]}}],
             "mark": {"type": "line", "interpolate": "step-after", "strokeWidth": 9},
             "encoding": {"color": {"field": "g", "type": "nominal", "scale": {"domain": ["A1", "A2"], "range": ["#008000", "#f04545"]},
                          "legend": {"title": null, "orient": "none", "legendX": 944, "legendY": 781, "rowPadding": -11, "labelExpr": "datum.label === 'A1' ? 'NLR<2.28' : 'NLR≥2.28'"}}}},
            {"data": {"name": "cen"}, "transform": [{"filter": {"field": "g", "oneOf": ["A1", "A2"]}}],
             "mark": {"type": "tick", "orient": "vertical", "size": 24, "thickness": 7, "yOffset": -12},
             "encoding": {"fill": {"field": "g", "type": "nominal", "scale": {"domain": ["A2", "A1"], "range": ["#f04545", "#008000"]}, "legend": null}}},
            {"data": {"name": "pv"}, "transform": [{"filter": "datum.g === 'A'"}],
             "mark": {"type": "text", "fontStyle": "italic", "align": "right"}, "encoding": {"text": {"field": "p"}}},
            {"data": {"name": "pv"}, "transform": [{"filter": "datum.g === 'A'"}],
             "mark": {"type": "text", "align": "left"}, "encoding": {"text": {"field": "v"}}}
          ]
        },
        {
          "title": {"text": "B", "dx": -248, "dy": 113},
          "width": 1448, "height": 955,
          "encoding": {
            "x": {"field": "t", "type": "quantitative", "scale": {"domain": [0, 90], "nice": false},
                  "axis": {"title": "Survival time/month", "values": [0,10,20,30,40,50,60,70,80,90], "labelExpr": "datum.value % 20 === 0 ? datum.label : ''", "tickSize": {"condition": {"test": "datum.value % 20 === 0", "value": -27}, "value": -14}}},
            "y": {"field": "s", "type": "quantitative", "scale": {"domain": [0, 100], "nice": false},
                  "axis": {"title": "RFS rate (%)", "values": [0,10,20,30,40,50,60,70,80,90,100], "labelExpr": "datum.value % 20 === 0 ? datum.label : ''", "tickSize": {"condition": {"test": "datum.value % 20 === 0", "value": -27}, "value": -14}}}
          },
          "layer": [
            {"data": {"name": "km"}, "transform": [{"filter": {"field": "g", "oneOf": ["B1", "B2"]}}],
             "mark": {"type": "area", "interpolate": "step-after", "fillOpacity": 0.2, "strokeWidth": 3, "strokeDash": [3, 4], "strokeOpacity": 0.3},
             "encoding": {"y": {"field": "hi", "type": "quantitative", "scale": {"domain": [0, 100], "nice": false}}, "y2": {"field": "lo"},
                          "fill": {"field": "g", "type": "nominal", "scale": {"domain": ["B2", "B1"], "range": ["#f04545", "#008000"]}, "legend": null},
                          "stroke": {"field": "g", "type": "nominal", "scale": {"domain": ["B2", "B1"], "range": ["#f04545", "#008000"]}, "legend": null}}},
            {"data": {"name": "km"}, "transform": [{"filter": {"field": "g", "oneOf": ["B1", "B2"]}}],
             "mark": {"type": "line", "interpolate": "step-after", "strokeWidth": 9},
             "encoding": {"color": {"field": "g", "type": "nominal", "scale": {"domain": ["B1", "B2"], "range": ["#008000", "#f04545"]},
                          "legend": {"title": null, "orient": "none", "legendX": 933, "legendY": 790, "rowPadding": -13, "labelExpr": "datum.label === 'B1' ? 'PLR<112.92' : 'PLR≥112.92'"}}}},
            {"data": {"name": "cen"}, "transform": [{"filter": {"field": "g", "oneOf": ["B1", "B2"]}}],
             "mark": {"type": "tick", "orient": "vertical", "size": 24, "thickness": 7, "yOffset": -12},
             "encoding": {"fill": {"field": "g", "type": "nominal", "scale": {"domain": ["B2", "B1"], "range": ["#f04545", "#008000"]}, "legend": null}}},
            {"data": {"name": "pv"}, "transform": [{"filter": "datum.g === 'B'"}],
             "mark": {"type": "text", "fontStyle": "italic", "align": "right"}, "encoding": {"text": {"field": "p"}}},
            {"data": {"name": "pv"}, "transform": [{"filter": "datum.g === 'B'"}],
             "mark": {"type": "text", "align": "left"}, "encoding": {"text": {"field": "v"}}}
          ]
        }
      ],
      "resolve": {"scale": {"color": "independent", "fill": "independent", "stroke": "independent", "x": "independent", "y": "independent"}, "legend": {"color": "independent", "fill": "independent", "stroke": "independent"}}
    },
    {
      "spacing": 549,
      "hconcat": [
        {
          "title": {"text": "C", "dx": -247, "dy": 113},
          "width": 1445, "height": 959,
          "encoding": {
            "x": {"field": "t", "type": "quantitative", "scale": {"domain": [0, 90], "nice": false},
                  "axis": {"title": "Survival time/month", "values": [0,10,20,30,40,50,60,70,80,90], "labelExpr": "datum.value % 20 === 0 ? datum.label : ''", "tickSize": {"condition": {"test": "datum.value % 20 === 0", "value": -27}, "value": -14}}},
            "y": {"field": "s", "type": "quantitative", "scale": {"domain": [0, 100], "nice": false},
                  "axis": {"title": "RFS rate (%)", "values": [0,10,20,30,40,50,60,70,80,90,100], "labelExpr": "datum.value % 20 === 0 ? datum.label : ''", "tickSize": {"condition": {"test": "datum.value % 20 === 0", "value": -27}, "value": -14}}}
          },
          "layer": [
            {"data": {"name": "km"}, "transform": [{"filter": {"field": "g", "oneOf": ["C1", "C2"]}}],
             "mark": {"type": "area", "interpolate": "step-after", "fillOpacity": 0.2, "strokeWidth": 3, "strokeDash": [3, 4], "strokeOpacity": 0.3},
             "encoding": {"y": {"field": "hi", "type": "quantitative", "scale": {"domain": [0, 100], "nice": false}}, "y2": {"field": "lo"},
                          "fill": {"field": "g", "type": "nominal", "scale": {"domain": ["C2", "C1"], "range": ["#f04545", "#008000"]}, "legend": null},
                          "stroke": {"field": "g", "type": "nominal", "scale": {"domain": ["C2", "C1"], "range": ["#f04545", "#008000"]}, "legend": null}}},
            {"data": {"name": "km"}, "transform": [{"filter": {"field": "g", "oneOf": ["C1", "C2"]}}],
             "mark": {"type": "line", "interpolate": "step-after", "strokeWidth": 9},
             "encoding": {"color": {"field": "g", "type": "nominal", "scale": {"domain": ["C1", "C2"], "range": ["#008000", "#f04545"]},
                          "legend": {"title": null, "orient": "none", "legendX": 968, "legendY": 782, "rowPadding": 0, "labelExpr": "datum.label === 'C1' ? 'LMR>3.62' : 'LMR≤3.62'"}}}},
            {"data": {"name": "cen"}, "transform": [{"filter": {"field": "g", "oneOf": ["C1", "C2"]}}],
             "mark": {"type": "tick", "orient": "vertical", "size": 24, "thickness": 7, "yOffset": -12},
             "encoding": {"fill": {"field": "g", "type": "nominal", "scale": {"domain": ["C2", "C1"], "range": ["#f04545", "#008000"]}, "legend": null}}},
            {"data": {"name": "pv"}, "transform": [{"filter": "datum.g === 'C'"}],
             "mark": {"type": "text", "fontStyle": "italic", "align": "right"}, "encoding": {"text": {"field": "p"}}},
            {"data": {"name": "pv"}, "transform": [{"filter": "datum.g === 'C'"}],
             "mark": {"type": "text", "align": "left"}, "encoding": {"text": {"field": "v"}}}
          ]
        },
        {
          "title": {"text": "D", "dx": -252, "dy": 113},
          "width": 1463, "height": 967,
          "encoding": {
            "x": {"field": "t", "type": "quantitative", "scale": {"domain": [0, 90], "nice": false},
                  "axis": {"title": "Survival time/month", "values": [0,10,20,30,40,50,60,70,80,90], "labelExpr": "datum.value % 20 === 0 ? datum.label : ''", "tickSize": {"condition": {"test": "datum.value % 20 === 0", "value": -27}, "value": -14}}},
            "y": {"field": "s", "type": "quantitative", "scale": {"domain": [0, 100], "nice": false},
                  "axis": {"title": "RFS rate (%)", "values": [0,10,20,30,40,50,60,70,80,90,100], "labelExpr": "datum.value % 20 === 0 ? datum.label : ''", "tickSize": {"condition": {"test": "datum.value % 20 === 0", "value": -27}, "value": -14}}}
          },
          "layer": [
            {"data": {"name": "km"}, "transform": [{"filter": {"field": "g", "oneOf": ["D1", "D2"]}}],
             "mark": {"type": "area", "interpolate": "step-after", "fillOpacity": 0.2, "strokeWidth": 3, "strokeDash": [3, 4], "strokeOpacity": 0.3},
             "encoding": {"y": {"field": "hi", "type": "quantitative", "scale": {"domain": [0, 100], "nice": false}}, "y2": {"field": "lo"},
                          "fill": {"field": "g", "type": "nominal", "scale": {"domain": ["D2", "D1"], "range": ["#f04545", "#008000"]}, "legend": null},
                          "stroke": {"field": "g", "type": "nominal", "scale": {"domain": ["D2", "D1"], "range": ["#f04545", "#008000"]}, "legend": null}}},
            {"data": {"name": "km"}, "transform": [{"filter": {"field": "g", "oneOf": ["D1", "D2"]}}],
             "mark": {"type": "line", "interpolate": "step-after", "strokeWidth": 9},
             "encoding": {"color": {"field": "g", "type": "nominal", "scale": {"domain": ["D1", "D2"], "range": ["#008000", "#f04545"]},
                          "legend": {"title": null, "orient": "none", "legendX": 971, "legendY": 812, "rowPadding": -11, "labelExpr": "datum.label === 'D1' ? 'RDW<13.75' : 'RDW≥13.75'"}}}},
            {"data": {"name": "cen"}, "transform": [{"filter": {"field": "g", "oneOf": ["D1", "D2"]}}],
             "mark": {"type": "tick", "orient": "vertical", "size": 24, "thickness": 7, "yOffset": -12},
             "encoding": {"fill": {"field": "g", "type": "nominal", "scale": {"domain": ["D2", "D1"], "range": ["#f04545", "#008000"]}, "legend": null}}},
            {"data": {"name": "pv"}, "transform": [{"filter": "datum.g === 'D'"}],
             "mark": {"type": "text", "fontStyle": "italic", "align": "right"}, "encoding": {"text": {"field": "p"}}},
            {"data": {"name": "pv"}, "transform": [{"filter": "datum.g === 'D'"}],
             "mark": {"type": "text", "align": "left"}, "encoding": {"text": {"field": "v"}}}
          ]
        }
      ],
      "resolve": {"scale": {"color": "independent", "fill": "independent", "stroke": "independent", "x": "independent", "y": "independent"}, "legend": {"color": "independent", "fill": "independent", "stroke": "independent"}}
    },
    {
      "spacing": 449,
      "hconcat": [
        {
          "title": {"text": "E", "dx": -250, "dy": 113},
          "width": 1539, "height": 988,
          "encoding": {
            "x": {"field": "t", "type": "quantitative", "scale": {"domain": [0, 90], "nice": false},
                  "axis": {"title": "Survival time/month", "values": [0,10,20,30,40,50,60,70,80,90], "labelExpr": "datum.value % 20 === 0 ? datum.label : ''", "tickSize": {"condition": {"test": "datum.value % 20 === 0", "value": -27}, "value": -14}}},
            "y": {"field": "s", "type": "quantitative", "scale": {"domain": [0, 100], "nice": false},
                  "axis": {"title": "RFS rate (%)", "values": [0,10,20,30,40,50,60,70,80,90,100], "labelExpr": "datum.value % 20 === 0 ? datum.label : ''", "tickSize": {"condition": {"test": "datum.value % 20 === 0", "value": -27}, "value": -14}}}
          },
          "layer": [
            {"data": {"name": "km"}, "transform": [{"filter": {"field": "g", "oneOf": ["E1", "E2"]}}],
             "mark": {"type": "area", "interpolate": "step-after", "fillOpacity": 0.2, "strokeWidth": 3, "strokeDash": [3, 4], "strokeOpacity": 0.3},
             "encoding": {"y": {"field": "hi", "type": "quantitative", "scale": {"domain": [0, 100], "nice": false}}, "y2": {"field": "lo"},
                          "fill": {"field": "g", "type": "nominal", "scale": {"domain": ["E2", "E1"], "range": ["#f04545", "#008000"]}, "legend": null},
                          "stroke": {"field": "g", "type": "nominal", "scale": {"domain": ["E2", "E1"], "range": ["#f04545", "#008000"]}, "legend": null}}},
            {"data": {"name": "km"}, "transform": [{"filter": {"field": "g", "oneOf": ["E1", "E2"]}}],
             "mark": {"type": "line", "interpolate": "step-after", "strokeWidth": 9},
             "encoding": {"color": {"field": "g", "type": "nominal", "scale": {"domain": ["E1", "E2"], "range": ["#008000", "#f04545"]},
                          "legend": {"title": null, "orient": "none", "legendX": 960, "legendY": 819, "rowPadding": -3, "labelExpr": "datum.label === 'E1' ? 'NPL-IRS score<2' : 'NPL-IRS score≥2'"}}}},
            {"data": {"name": "cen"}, "transform": [{"filter": {"field": "g", "oneOf": ["E1", "E2"]}}],
             "mark": {"type": "tick", "orient": "vertical", "size": 24, "thickness": 7, "yOffset": -12},
             "encoding": {"fill": {"field": "g", "type": "nominal", "scale": {"domain": ["E2", "E1"], "range": ["#f04545", "#008000"]}, "legend": null}}},
            {"data": {"name": "pv"}, "transform": [{"filter": "datum.g === 'E'"}],
             "mark": {"type": "text", "fontStyle": "italic", "align": "right"}, "encoding": {"text": {"field": "p"}}},
            {"data": {"name": "pv"}, "transform": [{"filter": "datum.g === 'E'"}],
             "mark": {"type": "text", "align": "left"}, "encoding": {"text": {"field": "v"}}}
          ]
        },
        {
          "title": {"text": "F", "dx": -250, "dy": 113},
          "width": 1482, "height": 988,
          "encoding": {
            "x": {"field": "t", "type": "quantitative", "scale": {"domain": [0, 90], "nice": false},
                  "axis": {"title": "Survival time/month", "values": [0,10,20,30,40,50,60,70,80,90], "labelExpr": "datum.value % 20 === 0 ? datum.label : ''", "tickSize": {"condition": {"test": "datum.value % 20 === 0", "value": -27}, "value": -14}}},
            "y": {"field": "s", "type": "quantitative", "scale": {"domain": [0, 100], "nice": false},
                  "axis": {"title": "RFS rate (%)", "values": [0,10,20,30,40,50,60,70,80,90,100], "labelExpr": "datum.value % 20 === 0 ? datum.label : ''", "tickSize": {"condition": {"test": "datum.value % 20 === 0", "value": -27}, "value": -14}}}
          },
          "layer": [
            {"data": {"name": "km"}, "transform": [{"filter": {"field": "g", "oneOf": ["F1", "F2"]}}],
             "mark": {"type": "area", "interpolate": "step-after", "fillOpacity": 0.2, "strokeWidth": 3, "strokeDash": [3, 4], "strokeOpacity": 0.3},
             "encoding": {"y": {"field": "hi", "type": "quantitative", "scale": {"domain": [0, 100], "nice": false}}, "y2": {"field": "lo"},
                          "fill": {"field": "g", "type": "nominal", "scale": {"domain": ["F2", "F1"], "range": ["#f04545", "#008000"]}, "legend": null},
                          "stroke": {"field": "g", "type": "nominal", "scale": {"domain": ["F2", "F1"], "range": ["#f04545", "#008000"]}, "legend": null}}},
            {"data": {"name": "km"}, "transform": [{"filter": {"field": "g", "oneOf": ["F1", "F2"]}}],
             "mark": {"type": "line", "interpolate": "step-after", "strokeWidth": 9},
             "encoding": {"color": {"field": "g", "type": "nominal", "scale": {"domain": ["F1", "F2"], "range": ["#008000", "#f04545"]},
                          "legend": {"title": null, "orient": "none", "legendX": 595, "legendY": 838, "rowPadding": -3, "labelFontSize": 54, "labelExpr": "datum.label === 'F1' ? 'Prognosis nutritional index>48.13' : 'Prognosis nutritional index≤48.13'"}}}},
            {"data": {"name": "cen"}, "transform": [{"filter": {"field": "g", "oneOf": ["F1", "F2"]}}],
             "mark": {"type": "tick", "orient": "vertical", "size": 24, "thickness": 7, "yOffset": -12},
             "encoding": {"fill": {"field": "g", "type": "nominal", "scale": {"domain": ["F2", "F1"], "range": ["#f04545", "#008000"]}, "legend": null}}},
            {"data": {"name": "pv"}, "transform": [{"filter": "datum.g === 'F'"}],
             "mark": {"type": "text", "fontStyle": "italic", "align": "right"}, "encoding": {"text": {"field": "p"}}},
            {"data": {"name": "pv"}, "transform": [{"filter": "datum.g === 'F'"}],
             "mark": {"type": "text", "align": "left"}, "encoding": {"text": {"field": "v"}}}
          ]
        }
      ],
      "resolve": {"scale": {"color": "independent", "fill": "independent", "stroke": "independent", "x": "independent", "y": "independent"}, "legend": {"color": "independent", "fill": "independent", "stroke": "independent"}}
    }
  ],
  "resolve": {"scale": {"color": "independent", "fill": "independent", "stroke": "independent", "x": "independent", "y": "independent"}, "legend": {"color": "independent", "fill": "independent", "stroke": "independent"}},
  "config": {
    "view": {"stroke": null},
    "font": "Liberation Sans",
    "axis": {"grid": false, "domainColor": "black", "domainWidth": 9, "domainCap": "square", "tickColor": "black", "tickWidth": 9,
             "labelFont": "Liberation Sans", "labelFontWeight": "bold", "labelFontSize": 78, "labelColor": "black", "labelFlush": false, "labelOverlap": false,
             "titleFont": "Liberation Sans", "titleFontWeight": "bold", "titleFontSize": 78, "titleColor": "black"},
    "axisX": {"labelPadding": 48, "titlePadding": 22},
    "axisY": {"labelPadding": 40, "titlePadding": 10},
    "legend": {"symbolType": "M-2,0H2M0,0V-0.9", "symbolSize": 2116, "symbolStrokeWidth": 9,
               "labelFont": "Liberation Sans", "labelFontSize": 60, "labelColor": "black", "labelOffset": 67, "labelLimit": 2000, "padding": 0},
    "title": {"anchor": "start", "frame": "group", "offset": 0, "baseline": "alphabetic", "fontSize": 142, "fontWeight": "normal", "font": "Liberation Sans", "color": "black"},
    "text": {"font": "Liberation Sans", "fontSize": 104, "baseline": "alphabetic", "color": "black"}
  }
}
